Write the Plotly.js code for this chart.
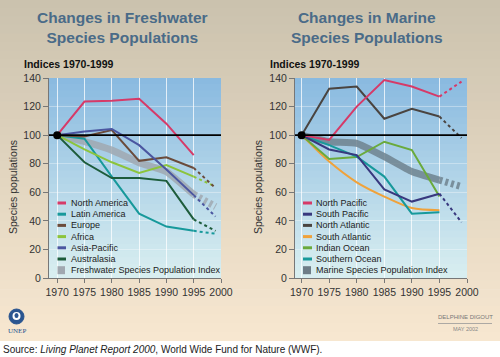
<!DOCTYPE html>
<html>
<head>
<meta charset="utf-8">
<script src="https://cdn.plot.ly/plotly-3.0.1.min.js"></script>
<style>
  html, body { margin: 0; padding: 0; background: #ffffff; }
  #chart { width: 500px; height: 357px; }
</style>
</head>
<body>
<div id="chart"></div>
<script>
// ---------------- DATA ----------------
const years = [1970, 1975, 1980, 1985, 1990, 1995];
const projYears = [1995, 1999];
const baseline = 100;
const yTicks = [0, 20, 40, 60, 80, 100, 120, 140];
const xTicks = [1970, 1975, 1980, 1985, 1990, 1995, 2000];

// Freshwater
const freshNames = ["North America", "Latin America", "Europe", "Africa", "Asia-Pacific", "Australasia", "Freshwater Species Population Index"];
const northAmerica = [100, 123.5, 124, 125.5, 108, 86];
const latinAmerica = [100, 97.5, 71, 45, 36, 33];
const latinAmericaProj = [33, 31];
const europe = [100, 99, 103.5, 82, 84.5, 77];
const europeProj = [77, 63];
const africa = [100, 90, 81, 73.5, 79, 71];
const africaProj = [71, 64];
const asiaPacific = [100, 102.5, 104.3, 93, 76, 58];
const asiaPacificProj = [58, 43];
const australasia = [100, 81, 70, 70, 68, 41];
const australasiaProj = [41, 33];
const freshIndex = [100, 95.5, 89.5, 80.7, 74.4, 58.5];
const freshIndexProj = [58.5, 50];

// Marine
const marineNames = ["North Pacific", "South Pacific", "North Atlantic", "South Atlantic", "Indian Ocean", "Southern Ocean", "Marine Species Population Index"];
const northPacific = [100, 96.6, 120, 138.6, 134, 127];
const northPacificProj = [127, 137.5];
const southPacific = [100, 90, 86, 62, 53.5, 59];
const southPacificProj = [59, 39];
const northAtlantic = [100, 132.5, 134, 111.5, 118.5, 113];
const northAtlanticProj = [113, 98];
const southAtlantic = [100, 81.5, 67, 57, 49, 47.5];
const indianOcean = [100, 83.3, 84.7, 95.4, 89.6, 57];
const southernOcean = [100, 93, 85, 71, 45, 46];
const marineIndex = [100, 95.4, 94.3, 85, 74.5, 68.5];
const marineIndexProj = [68.5, 64];

// ---------------- STYLE ----------------
const FONT = "Liberation Sans, Arial, Helvetica, sans-serif";
const C = {
  crimson: "#d63a68", teal: "#17999b", brown: "#6b4b3b", lime: "#8cc43c",
  blue: "#4b56a0", dkgreen: "#1d5c3b", freshIdx: "rgba(160,168,176,0.85)",
  navy: "#38387e", charcoal: "#4a4440", orange: "#f0a23a", green: "#6aaa3c",
  marineIdx: "rgba(110,130,142,0.85)"
};

const traces = [];
function line(x, y, color, xa, ya, opts) {
  opts = opts || {};
  traces.push({
    type: "scatter", mode: "lines", x: x, y: y, xaxis: xa, yaxis: ya,
    showlegend: false, hoverinfo: "skip",
    line: { color: color, width: opts.width || 2, dash: opts.dash || "solid",
            shape: opts.shape || "linear", smoothing: opts.smoothing || 0.6 }
  });
}
const DOT = "3px,3px";

// Freshwater (left)
line(years, freshIndex, C.freshIdx, "x", "y", { width: 7, shape: "spline", smoothing: 0.4 });
line(projYears, freshIndexProj, C.freshIdx, "x", "y", { width: 7, dash: DOT });
line(years, northAmerica, C.crimson, "x", "y");
line(years, latinAmerica, C.teal, "x", "y");
line(projYears, latinAmericaProj, C.teal, "x", "y", { dash: DOT });
line(years, africa, C.lime, "x", "y");
line(projYears, africaProj, C.lime, "x", "y", { dash: DOT });
line(years, europe, C.brown, "x", "y");
line(projYears, europeProj, C.brown, "x", "y", { dash: DOT });
line(years, asiaPacific, C.blue, "x", "y");
line(projYears, asiaPacificProj, C.blue, "x", "y", { dash: DOT });
line(years, australasia, C.dkgreen, "x", "y");
line(projYears, australasiaProj, C.dkgreen, "x", "y", { dash: DOT });

// Marine (right)
line(years, marineIndex, C.marineIdx, "x2", "y2", { width: 7, shape: "spline", smoothing: 0.4 });
line(projYears, marineIndexProj, C.marineIdx, "x2", "y2", { width: 7, dash: DOT });
line(years, southAtlantic, C.orange, "x2", "y2", { shape: "spline", smoothing: 0.8 });
line(years, indianOcean, C.green, "x2", "y2");
line(years, southernOcean, C.teal, "x2", "y2");
line(years, southPacific, C.navy, "x2", "y2");
line(projYears, southPacificProj, C.navy, "x2", "y2", { dash: DOT });
line(years, northAtlantic, C.charcoal, "x2", "y2");
line(projYears, northAtlanticProj, C.charcoal, "x2", "y2", { dash: DOT });
line(years, northPacific, C.crimson, "x2", "y2");
line(projYears, northPacificProj, C.crimson, "x2", "y2", { dash: DOT });

// start dots
[["x", "y"], ["x2", "y2"]].forEach(function (p) {
  traces.push({ type: "scatter", mode: "markers", x: [years[0]], y: [baseline],
    xaxis: p[0], yaxis: p[1], showlegend: false, hoverinfo: "skip",
    marker: { color: "#000", size: 8 } });
});

// ---------------- LAYOUT ----------------
const W = 500, H = 357;
const dom1 = [49 / W, 221 / W], dom2 = [295 / W, 467 / W];
const domY = [(H - 278) / H, (H - 78) / H];

function xaxis(domain, range, anchor) {
  return { domain: domain, range: range, anchor: anchor, tickvals: xTicks, tickangle: 0,
    ticks: "outside", ticklen: 4, tickcolor: "#777", showline: true, linecolor: "#777",
    linewidth: 1, showgrid: true, gridcolor: "rgba(255,255,255,0.75)", gridwidth: 1,
    zeroline: false, tickfont: { family: FONT, size: 10.5, color: "#333" }, fixedrange: true };
}
function yaxis(anchor) {
  return { domain: domY, range: [0, 140], anchor: anchor, tickvals: yTicks,
    ticks: "outside", ticklen: 5, tickcolor: "#777", showline: true, linecolor: "#777",
    linewidth: 1, showgrid: true, gridcolor: "rgba(255,255,255,0.35)", gridwidth: 1,
    zeroline: false, tickfont: { family: FONT, size: 10.5, color: "#333" }, fixedrange: true };
}

const shapes = [];
function lerp(a, b, t) { return Math.round(a + (b - a) * t); }
function rgb(a, b, t) { return "rgb(" + lerp(a[0], b[0], t) + "," + lerp(a[1], b[1], t) + "," + lerp(a[2], b[2], t) + ")"; }
// paper gradient (beige)
const pTop = [203, 194, 174], pBot = [247, 231, 208];
const whiteH = (H - 341) / H;
const NB = 40;
for (let i = 0; i < NB; i++) {
  const t = i / (NB - 1);
  const y1 = 1 - i / NB * (1 - whiteH), y0 = 1 - (i + 1) / NB * (1 - whiteH);
  shapes.push({ type: "rect", xref: "paper", yref: "paper", x0: 0, x1: 1, y0: y0, y1: Math.min(1, y1 + 0.002),
    fillcolor: rgb(pTop, pBot, t), line: { width: 0 }, layer: "below" });
}
// plot gradient (blue)
const bTop = [138, 186, 224], bBot = [216, 238, 240];
const NP = 30;
[dom1, dom2].forEach(function (d) {
  for (let i = 0; i < NP; i++) {
    const t = i / (NP - 1);
    const h = domY[1] - domY[0];
    shapes.push({ type: "rect", xref: "paper", yref: "paper", x0: d[0], x1: d[1],
      y0: domY[1] - (i + 1) / NP * h, y1: Math.min(domY[1], domY[1] - i / NP * h + 0.002),
      fillcolor: rgb(bTop, bBot, t), line: { width: 0 }, layer: "below" });
  }
});
// baseline 100
[[dom1, "y"], [dom2, "y2"]].forEach(function (r) {
  shapes.push({ type: "line", xref: "paper", yref: r[1], x0: r[0][0], x1: r[0][1], y0: baseline, y1: baseline,
    line: { color: "#000", width: 1.6 }, layer: "above" });
});

const annotations = [];
// manual legends (pixel positions converted to paper)
function legend(names, colors, sx0, sx1, tx) {
  names.forEach(function (n, i) {
    const py = 203 + i * 11.2;
    const yp = 1 - py / H;
    const isIdx = i === names.length - 1;
    if (isIdx) {
      shapes.push({ type: "rect", xref: "paper", yref: "paper", x0: sx0 / W, x1: (sx1 - 1) / W,
        y0: yp - 4 / H, y1: yp + 4 / H, fillcolor: colors[i], line: { width: 0 }, layer: "above" });
    } else {
      shapes.push({ type: "line", xref: "paper", yref: "paper", x0: sx0 / W, x1: sx1 / W, y0: yp, y1: yp,
        line: { color: colors[i], width: 3 }, layer: "above" });
    }
    annotations.push({ xref: "paper", yref: "paper", x: tx / W, y: yp, xanchor: "left", yanchor: "middle",
      showarrow: false, text: n, font: { family: FONT, size: 9, color: "#222" } });
  });
}
legend(freshNames, [C.crimson, C.teal, C.brown, C.lime, C.blue, C.dkgreen, "rgb(160,168,176)"], 57.5, 66, 68.5);
legend(marineNames, [C.crimson, C.navy, C.charcoal, C.orange, C.green, C.teal, "rgb(110,125,135)"], 303, 312, 314);

function pa(x, y, text, o) {
  annotations.push(Object.assign({ xref: "paper", yref: "paper", x: x / W, y: 1 - y / H,
    showarrow: false, text: text }, o));
}
const titleFont = { family: FONT, size: 15.5, color: "#4a6b88" };
pa(122, 28, "<b>Changes in Freshwater<br>Species Populations</b>", { font: titleFont, xanchor: "center", yanchor: "middle" });
pa(367, 28, "<b>Changes in Marine<br>Species Populations</b>", { font: titleFont, xanchor: "center", yanchor: "middle" });
pa(22, 64, "<b>Indices 1970-1999</b>", { font: { family: FONT, size: 10.5, color: "#111" }, xanchor: "left", yanchor: "middle" });
pa(268, 64, "<b>Indices 1970-1999</b>", { font: { family: FONT, size: 10.5, color: "#111" }, xanchor: "left", yanchor: "middle" });
pa(13, 187, "Species populations", { font: { family: FONT, size: 10.5, color: "#333" }, textangle: -90, xanchor: "center", yanchor: "middle" });
pa(258, 187, "Species populations", { font: { family: FONT, size: 10.5, color: "#333" }, textangle: -90, xanchor: "center", yanchor: "middle" });
pa(1, 349, "Source: <i>Living Planet Report 2000</i>, World Wide Fund for Nature (WWF).",
  { font: { family: FONT, size: 10, color: "#222" }, xanchor: "left", yanchor: "middle" });
pa(465, 317, "DELPHINE DIGOUT", { font: { family: FONT, size: 6, color: "#777" }, xanchor: "center", yanchor: "middle" });
pa(465, 329, "MAY 2002", { font: { family: FONT, size: 5.5, color: "#888" }, xanchor: "center", yanchor: "middle" });
pa(16.5, 331, "UNEP", { font: { family: "Liberation Serif, DejaVu Serif, serif", size: 7, color: "#2a5590" }, xanchor: "center", yanchor: "middle" });
// signature rule and UNEP emblem
shapes.push({ type: "line", xref: "paper", yref: "paper", x0: 438 / W, x1: 492 / W, y0: 1 - 323.5 / H, y1: 1 - 323.5 / H,
  line: { color: "#999", width: 0.8 }, layer: "above" });
shapes.push({ type: "circle", xref: "paper", yref: "paper", x0: 9 / W, x1: 24 / W, y0: 1 - 324 / H, y1: 1 - 309 / H,
  fillcolor: "#2a5590", line: { color: "#2a5590", width: 1 }, layer: "above" });
shapes.push({ type: "circle", xref: "paper", yref: "paper", x0: 12.5 / W, x1: 20.5 / W, y0: 1 - 320 / H, y1: 1 - 312 / H,
  fillcolor: "#ffffff", line: { width: 0 }, layer: "above" });
shapes.push({ type: "circle", xref: "paper", yref: "paper", x0: 14.5 / W, x1: 18.5 / W, y0: 1 - 318 / H, y1: 1 - 313 / H,
  fillcolor: "#2a5590", line: { width: 0 }, layer: "above" });

const layout = {
  width: W, height: H, margin: { l: 0, r: 0, t: 0, b: 0 },
  paper_bgcolor: "#ffffff", plot_bgcolor: "rgba(0,0,0,0)", showlegend: false,
  font: { family: FONT, color: "#333" },
  xaxis: xaxis(dom1, [1968.5, 2000], "y"),
  yaxis: yaxis("x"),
  xaxis2: xaxis(dom2, [1968.8, 2000], "y2"),
  yaxis2: yaxis("x2"),
  shapes: shapes, annotations: annotations
};

Plotly.newPlot("chart", traces, layout, { staticPlot: true, displayModeBar: false });
</script>
</body>
</html>
